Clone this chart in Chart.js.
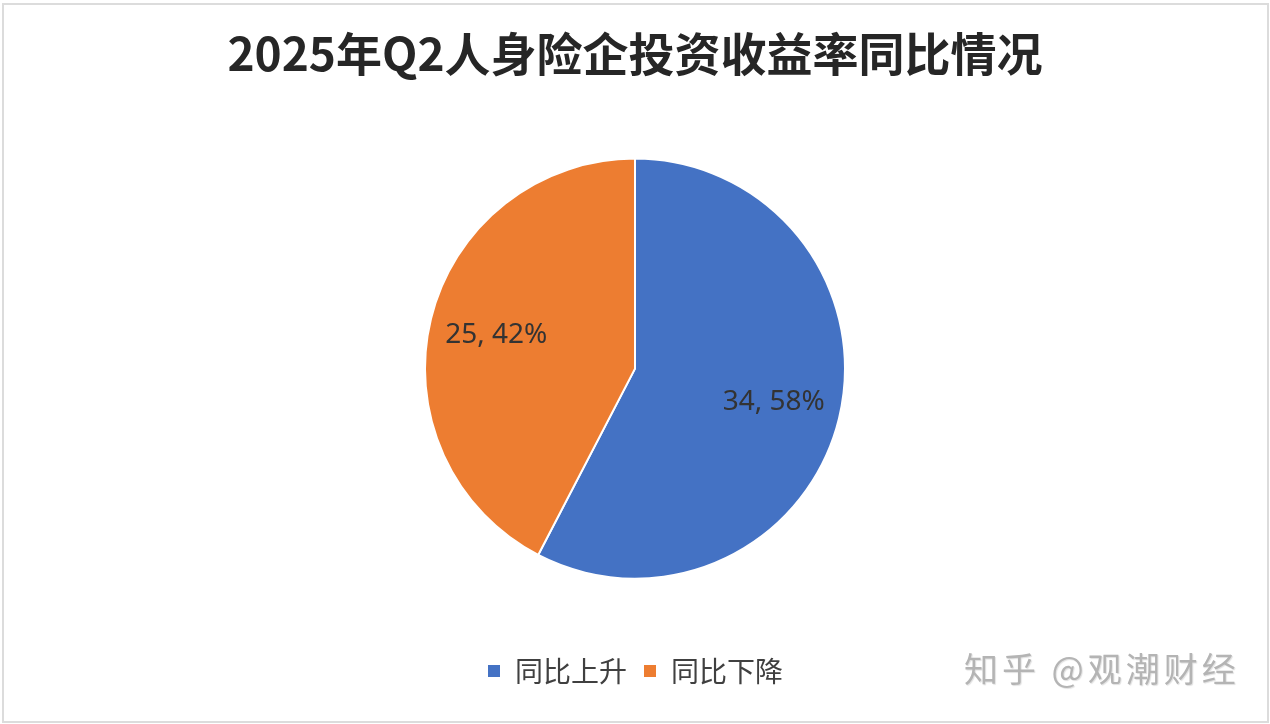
<!DOCTYPE html>
<html>
<head>
<meta charset="utf-8">
<script src="https://cdn.jsdelivr.net/npm/chart.js@4"></script>
<style>
  html, body { margin: 0; padding: 0; background: #fff; }
  #wrap { position: relative; width: 1270px; height: 724px; }
  #frame { position: absolute; left: 2px; top: 3px; width: 1263px; height: 716px; border: 2px solid #dcdcdc; pointer-events: none; }
  #mark { position: absolute; left: 964px; top: 648px; font-family: "Noto Sans CJK SC", sans-serif; font-size: 34px; letter-spacing: 4px; color: #b4b4b4; text-shadow: 1px 1px 1px #e0e0e0; white-space: nowrap; line-height: 1.2; }
</style>
</head>
<body>
<div id="wrap">
  <canvas id="myChart" width="1270" height="724"></canvas>
  <div id="frame"></div>
  <div id="mark">知乎 @观潮财经</div>
</div>
<script>
// datos del grafico
const categorias = ["同比上升", "同比下降"];
const valores = [34, 25];
const porcentajes = ["58%", "42%"];
const colores = ["#4472C4", "#ED7D31"];

// plugin que dibuja "valor, %" dentro de cada sector
const etiquetasSector = {
  id: "etiquetasSector",
  afterDatasetsDraw(chart) {
    const ctx = chart.ctx;
    const meta = chart.getDatasetMeta(0);
    ctx.save();
    ctx.font = "28px 'Noto Sans', 'Open Sans', sans-serif";
    ctx.fillStyle = "#333333";
    ctx.textAlign = "center";
    ctx.textBaseline = "middle";
    meta.data.forEach((arco, i) => {
      const p = arco.getProps(["x", "y", "startAngle", "endAngle", "outerRadius"], true);
      const medio = (p.startAngle + p.endAngle) / 2;
      const r = p.outerRadius * 0.68;
      ctx.fillText(valores[i] + ", " + porcentajes[i], p.x + Math.cos(medio) * r, p.y + Math.sin(medio) * r);
    });
    ctx.restore();
  }
};

const config = {
  type: "pie",
  data: {
    labels: categorias,
    datasets: [{
      data: valores,
      backgroundColor: colores,
      borderColor: "#ffffff",
      borderWidth: 2,
      radius: 210
    }]
  },
  options: {
    responsive: false,
    animation: false,
    layout: { padding: { top: 20, bottom: 29 } },
    plugins: {
      title: {
        display: true,
        text: "2025年Q2人身险企投资收益率同比情况",
        color: "#262626",
        font: { family: "'Noto Sans CJK SC', sans-serif", size: 46, weight: "bold" },
        padding: { top: 6, bottom: 15 }
      },
      legend: {
        position: "bottom",
        labels: {
          boxWidth: 14,
          boxHeight: 14,
          padding: 16,
          color: "#404040",
          font: { family: "'Noto Sans CJK SC', sans-serif", size: 28 }
        }
      },
      tooltip: { enabled: false }
    }
  },
  plugins: [etiquetasSector]
};

new Chart(document.getElementById("myChart"), config);
</script>
</body>
</html>
